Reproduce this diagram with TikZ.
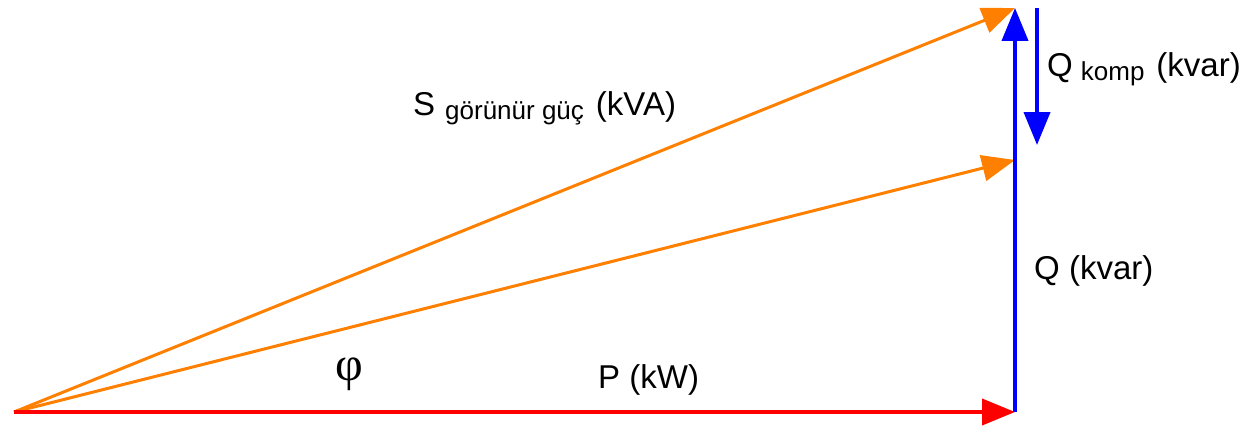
\documentclass[tikz,border=0pt]{standalone}
\usepackage{fontspec}
\setmainfont{Liberation Sans}
\newfontfamily\phifont{Liberation Serif}
\usetikzlibrary{arrows.meta}
\definecolor{vorange}{RGB}{255,128,0}
\definecolor{vblue}{RGB}{0,0,255}
\definecolor{vred}{RGB}{255,0,0}
\tikzset{
  vec/.style={line width=#1, -{Triangle[length=33pt,width=26pt]}},
  lbl/.style={anchor=base west, inner sep=0pt, font=\fontsize{33}{39}\selectfont}
}
\newcommand{\subtxt}[1]{\raisebox{-4pt}{\fontsize{26}{31}\selectfont #1}}
\begin{document}
\begin{tikzpicture}[x=1pt, y=-1pt]
\useasboundingbox (0,0) rectangle (1246,428);
% end points
\coordinate (O) at (14,412);
\coordinate (Pend) at (1015,412);
\coordinate (Qtop) at (1015,8);
\coordinate (Snew) at (1015,160);
\coordinate (Kt) at (1037,8);
\coordinate (Kb) at (1037,145);
% vectors
\draw[vec=3pt, vorange] (O) -- (Qtop);
\draw[vec=3pt, vorange] (O) -- (Snew);
\draw[vec=4pt, vred] (O) -- (Pend);
\draw[vec=4pt, vblue] (Pend) -- (Qtop);
\draw[vec=4pt, vblue] (Kt) -- (Kb);
% labels
\node[lbl] (s) at (413,115) {S\hspace{10pt}\subtxt{görünür güç}\hspace{12pt}(kVA)};
\node[lbl] (qk) at (1047,76) {Q\hspace{8pt}\subtxt{komp}\hspace{12pt}(kvar)};
\node[lbl] (q) at (1034,279) {Q (kvar)};
\node[lbl] (p) at (598,388) {P (kW)};
\node[inner sep=0pt, font=\phifont\fontsize{48}{54}\selectfont] (phi) at (349,374) {φ};
\end{tikzpicture}
\end{document}
